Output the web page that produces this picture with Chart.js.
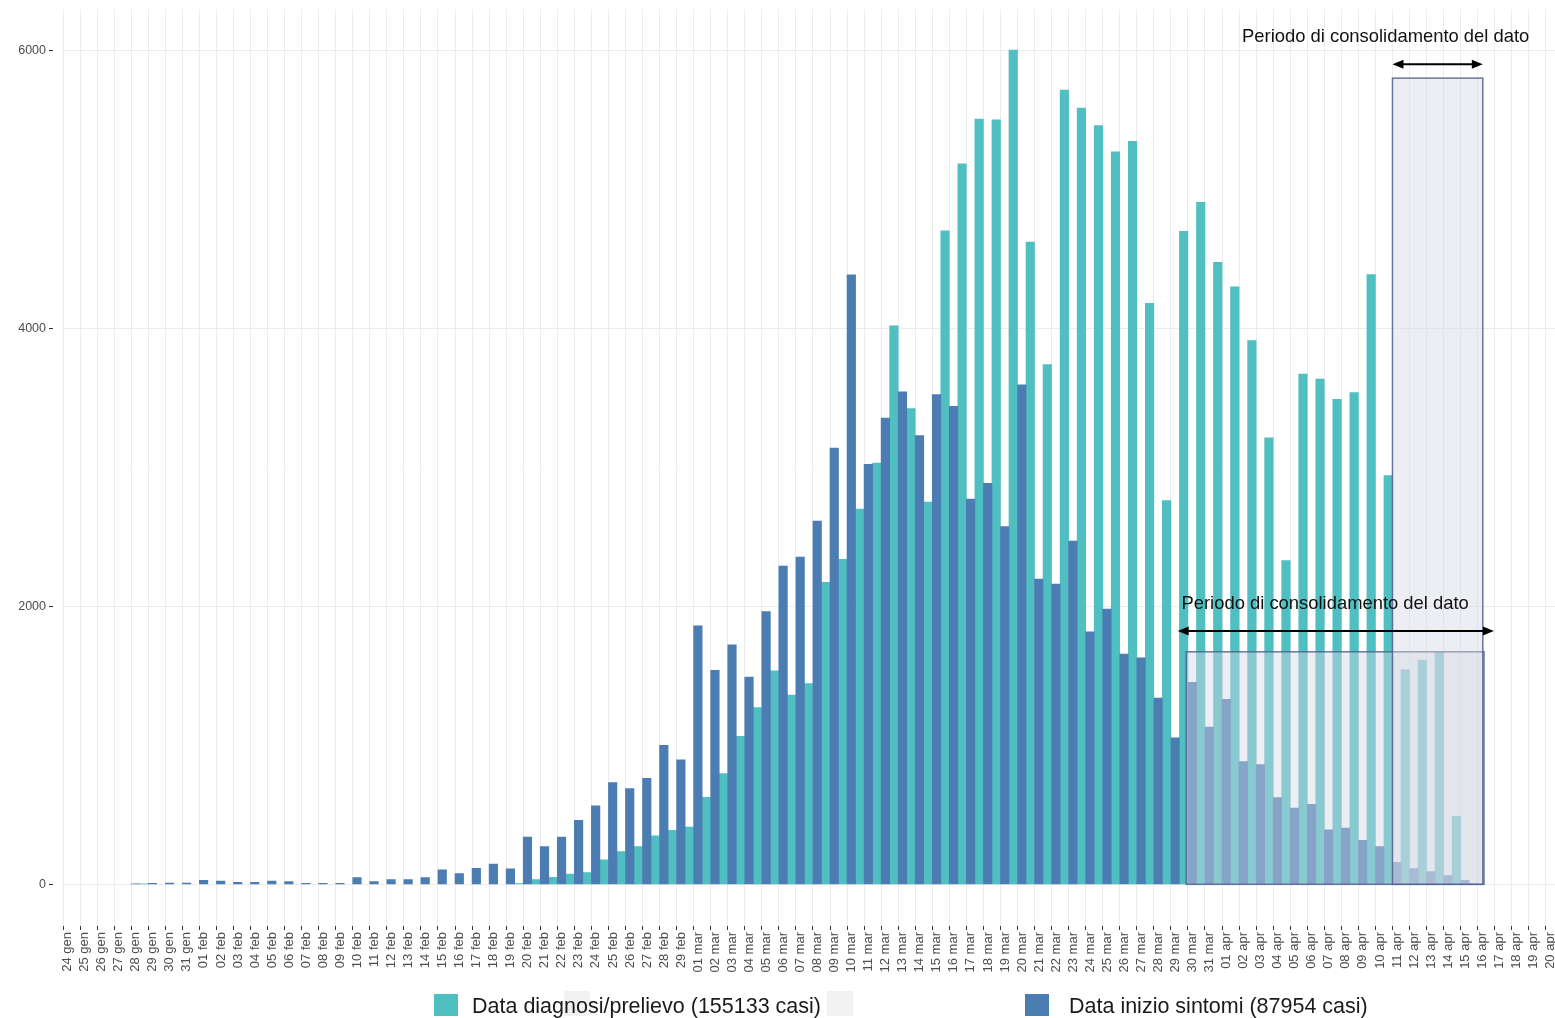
<!DOCTYPE html>
<html lang="it">
<head>
<meta charset="utf-8">
<title>Casi per data di diagnosi/prelievo e data di inizio sintomi</title>
<script src="https://cdn.jsdelivr.net/npm/chart.js@4.4.1/dist/chart.umd.min.js"></script>
<style>
    html, body { margin: 0; padding: 0; background: #fff; overflow: hidden; }
    #wrap { position: relative; width: 1572px; height: 1018px; }
    #grafico { position: absolute; left: 0; top: 0; }
    .voce { position: absolute; top: 992px; height: 28px; font-family: "Liberation Sans", Arial, sans-serif; font-size: 21.5px; color: #1a1a1a; line-height: 28px; white-space: nowrap; }
    .chiave { position: absolute; }
</style>
</head>
<body>
<div id="wrap">
    <canvas id="grafico" width="1572" height="1018"></canvas>
</div>
<script>
// giorni dal 24 gennaio al 20 aprile
const giorni = [
    '24 gen', '25 gen', '26 gen', '27 gen', '28 gen', '29 gen', '30 gen', '31 gen',
    '01 feb', '02 feb', '03 feb', '04 feb', '05 feb', '06 feb', '07 feb', '08 feb', '09 feb', '10 feb',
    '11 feb', '12 feb', '13 feb', '14 feb', '15 feb', '16 feb', '17 feb', '18 feb', '19 feb', '20 feb',
    '21 feb', '22 feb', '23 feb', '24 feb', '25 feb', '26 feb', '27 feb', '28 feb', '29 feb',
    '01 mar', '02 mar', '03 mar', '04 mar', '05 mar', '06 mar', '07 mar', '08 mar', '09 mar', '10 mar',
    '11 mar', '12 mar', '13 mar', '14 mar', '15 mar', '16 mar', '17 mar', '18 mar', '19 mar', '20 mar',
    '21 mar', '22 mar', '23 mar', '24 mar', '25 mar', '26 mar', '27 mar', '28 mar', '29 mar', '30 mar', '31 mar',
    '01 apr', '02 apr', '03 apr', '04 apr', '05 apr', '06 apr', '07 apr', '08 apr', '09 apr', '10 apr',
    '11 apr', '12 apr', '13 apr', '14 apr', '15 apr', '16 apr', '17 apr', '18 apr', '19 apr', '20 apr'
];

// casi per data inizio sintomi (barra di sinistra), null = nessun caso
const casiSintomi = [
    null, null, null, null, 3, 8, 9, 9,
    29, 24, 14, 14, 24, 19, 8, 8, 8, 48,
    19, 34, 34, 48, 105, 77, 115, 146, 112, 340,
    271, 340, 460, 565, 733, 690, 764, 1001, 896,
    1861, 1540, 1724, 1492, 1964, 2292, 2356, 2615, 3140, 4388,
    3023, 3356, 3546, 3231, 3526, 3442, 2773, 2887, 2576, 3596,
    2197, 2162, 2471, 1817, 1982, 1658, 1630, 1341, 1055, 1455, 1132,
    1331, 883, 863, 624, 549, 576, 392, 405, 317, 272,
    158, 113, 92, 63, 29, null, null, null, null, null
];

// casi per data diagnosi/prelievo (barra di destra), null = nessun caso
const casiDiagnosi = [
    null, null, null, null, 3, null, null, null,
    null, null, null, null, null, null, null, null, null, null,
    null, null, null, null, null, null, null, null, 5, 34,
    50, 74, 84, 177, 235, 271, 350, 388, 412,
    627, 797, 1066, 1272, 1537, 1363, 1446, 2174, 2340, 2702,
    3032, 4020, 3425, 2752, 4705, 5187, 5510, 5503, 6006, 4624,
    3741, 5718, 5588, 5462, 5274, 5349, 4183, 2763, 4702, 4910, 4478,
    4301, 3914, 3214, 2330, 3673, 3638, 3491, 3541, 4389, 2943,
    1545, 1615, 1668, 489, 5, null, null, null, null, null
];

const tickY = [0, 2000, 4000, 6000];

const nomeDiagnosi = 'Data diagnosi/prelievo (155133 casi)';
const nomeSintomi = 'Data inizio sintomi (87954 casi)';

const coloreDiagnosi = '#50bfc1';
const coloreSintomi = '#4b7db3';

// riquadri "periodo di consolidamento" (x in indici di giorno, y in casi)
const periodi = [
    { da: 65.4, a: 82.87, alto: 1674, frecciaDa: 64.9, frecciaA: 83.45, frecciaY: 1824, testoX: 73.55, testoY: 2018 },
    { da: 77.5, a: 82.8, alto: 5804, frecciaDa: 77.5, frecciaA: 82.8, frecciaY: 5904, testoX: 77.1, testoY: 6098 }
];
const testoPeriodo = 'Periodo di consolidamento del dato';

function disegnaFreccia(ctx, x0, x1, y) {
    ctx.strokeStyle = '#000';
    ctx.fillStyle = '#000';
    ctx.lineWidth = 2;
    ctx.beginPath();
    ctx.moveTo(x0 + 4, y);
    ctx.lineTo(x1 - 4, y);
    ctx.stroke();
    [[x0, 1], [x1, -1]].forEach(([px, dir]) => {
        ctx.beginPath();
        ctx.moveTo(px, y);
        ctx.lineTo(px + dir * 11, y - 4.5);
        ctx.lineTo(px + dir * 11, y + 4.5);
        ctx.closePath();
        ctx.fill();
    });
}

const pluginPeriodi = {
    id: 'periodi',
    afterDatasetsDraw(chart) {
        const ctx = chart.ctx;
        const x = chart.scales.x;
        const y = chart.scales.y;
        ctx.save();
        // prima i riquadri semitrasparenti
        periodi.forEach(p => {
            const left = x.getPixelForValue(p.da);
            const right = x.getPixelForValue(p.a);
            const top = y.getPixelForValue(p.alto);
            const bottom = y.getPixelForValue(0);
            ctx.fillStyle = 'rgba(213, 215, 227, 0.43)';
            ctx.fillRect(left, top, right - left, bottom - top);
            ctx.strokeStyle = 'rgba(80, 95, 140, 0.85)';
            ctx.lineWidth = 1.5;
            ctx.strokeRect(left, top, right - left, bottom - top);
        });
        // poi frecce e testi sopra
        periodi.forEach(p => {
            disegnaFreccia(ctx, x.getPixelForValue(p.frecciaDa), x.getPixelForValue(p.frecciaA), y.getPixelForValue(p.frecciaY));
            ctx.font = '18.4px "Liberation Sans", Arial, sans-serif';
            ctx.fillStyle = '#111';
            ctx.textAlign = 'center';
            ctx.textBaseline = 'middle';
            ctx.fillText(testoPeriodo, x.getPixelForValue(p.testoX), y.getPixelForValue(p.testoY));
        });
        ctx.restore();
    }
};

function creaLegenda(chart) {
    const wrap = document.getElementById('wrap');
    // posizione delle voci come nel grafico originale
    const voci = [
        { colore: chart.data.datasets[1].backgroundColor, testo: chart.data.datasets[1].label, chiaveX: 434, testoX: 472 },
        { colore: chart.data.datasets[0].backgroundColor, testo: chart.data.datasets[0].label, chiaveX: 1025, testoX: 1069 }
    ];
    // riquadri grigi vuoti presenti nella legenda originale
    [564, 827].forEach(left => {
        const box = document.createElement('div');
        box.className = 'chiave';
        box.style.cssText = `left:${left}px;top:991px;width:26px;height:25px;background:#f1f1f1;`;
        wrap.appendChild(box);
    });
    voci.forEach(v => {
        const box = document.createElement('div');
        box.className = 'chiave';
        box.style.cssText = `left:${v.chiaveX}px;top:994px;width:24px;height:22px;background:${v.colore};`;
        wrap.appendChild(box);
        const label = document.createElement('div');
        label.className = 'voce';
        label.style.left = v.testoX + 'px';
        label.textContent = v.testo;
        wrap.appendChild(label);
    });
}

document.addEventListener('DOMContentLoaded', function() {
    const ctx = document.getElementById('grafico').getContext('2d');
    const grafico = new Chart(ctx, {
        type: 'bar',
        data: {
            labels: giorni,
            datasets: [
                {
                    label: nomeSintomi,
                    data: casiSintomi,
                    backgroundColor: coloreSintomi,
                    borderWidth: 0,
                    barPercentage: 1,
                    categoryPercentage: 1
                },
                {
                    label: nomeDiagnosi,
                    data: casiDiagnosi,
                    backgroundColor: coloreDiagnosi,
                    borderWidth: 0,
                    barPercentage: 1,
                    categoryPercentage: 1
                }
            ]
        },
        options: {
            responsive: false,
            animation: false,
            layout: { padding: { top: 7, left: 0, right: 0, bottom: 0 } },
            plugins: {
                legend: { display: false },
                tooltip: { enabled: false }
            },
            scales: {
                x: {
                    offset: true,
                    afterFit(scale) { scale.height = 92; },
                    border: { display: false },
                    grid: {
                        offset: true,
                        color: '#ececec',
                        lineWidth: 1,
                        tickLength: 4,
                        tickColor: '#333'
                    },
                    ticks: {
                        autoSkip: false,
                        minRotation: 90,
                        maxRotation: 90,
                        labelOffset: -4,
                        padding: 2,
                        color: '#4d4d4d',
                        font: { family: '"Liberation Sans", Arial, sans-serif', size: 13 }
                    }
                },
                y: {
                    min: -300,
                    max: 6300,
                    afterFit(scale) { scale.width = 63; },
                    afterBuildTicks(scale) {
                        scale.ticks = tickY.map(v => ({ value: v }));
                    },
                    border: { display: false },
                    grid: {
                        color: '#ececec',
                        lineWidth: 1,
                        tickLength: 14,
                        tickColor: '#333',
                        tickBorderDash: [4, 10]
                    },
                    ticks: {
                        padding: 3,
                        color: '#4d4d4d',
                        font: { family: '"Liberation Sans", Arial, sans-serif', size: 12.5, lineHeight: 1 },
                        callback: value => String(value)
                    }
                }
            }
        },
        plugins: [pluginPeriodi]
    });
    creaLegenda(grafico);
});
</script>
</body>
</html>
